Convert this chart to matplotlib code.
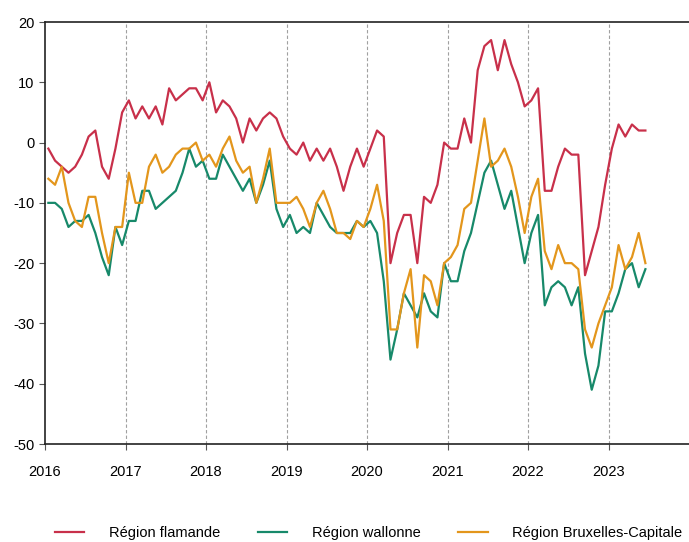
import numpy as np
import matplotlib
matplotlib.use("Agg")
import matplotlib.pyplot as plt

plt.rcParams['font.family'] = ['Liberation Sans', 'DejaVu Sans']
plt.rcParams['axes.unicode_minus'] = False

# monthly values, Jan 2016 - Jun 2023
flandre = [-1, -3, -4, -5, -4, -2, 1, 2, -4, -6, -1, 5,
           7, 4, 6, 4, 6, 3, 9, 7, 8, 9, 9, 7,
           10, 5, 7, 6, 4, 0, 4, 2, 4, 5, 4, 1,
           -1, -2, 0, -3, -1, -3, -1, -4, -8, -4, -1, -4,
           -1, 2, 1, -20, -15, -12, -12, -20, -9, -10, -7, 0,
           -1, -1, 4, 0, 12, 16, 17, 12, 17, 13, 10, 6,
           7, 9, -8, -8, -4, -1, -2, -2, -22, -18, -14, -7,
           -1, 3, 1, 3, 2, 2]
wallonie = [-10, -10, -11, -14, -13, -13, -12, -15, -19, -22, -14, -17,
            -13, -13, -8, -8, -11, -10, -9, -8, -5, -1, -4, -3,
            -6, -6, -2, -4, -6, -8, -6, -10, -7, -3, -11, -14,
            -12, -15, -14, -15, -10, -12, -14, -15, -15, -15, -13, -14,
            -13, -15, -23, -36, -31, -25, -27, -29, -25, -28, -29, -20,
            -23, -23, -18, -15, -10, -5, -3, -7, -11, -8, -14, -20,
            -15, -12, -27, -24, -23, -24, -27, -24, -35, -41, -37, -28,
            -28, -25, -21, -20, -24, -21]
bruxelles = [-6, -7, -4, -10, -13, -14, -9, -9, -15, -20, -14, -14,
             -5, -10, -10, -4, -2, -5, -4, -2, -1, -1, 0, -3,
             -2, -4, -1, 1, -3, -5, -4, -10, -6, -1, -10, -10,
             -10, -9, -11, -14, -10, -8, -11, -15, -15, -16, -13, -14,
             -11, -7, -13, -31, -31, -25, -21, -34, -22, -23, -27, -20,
             -19, -17, -11, -10, -3, 4, -4, -3, -1, -4, -9, -15,
             -9, -6, -18, -21, -17, -20, -20, -21, -31, -34, -30, -27,
             -24, -17, -21, -19, -15, -20]
years = list(range(2016, 2024))
labels = ['Région flamande', 'Région wallonne', 'Région Bruxelles-Capitale']

# mid-month positions
t = 2016 + (np.arange(len(flandre)) + 0.5) / 12

fig = plt.figure(figsize=(6.89, 5.42), dpi=100)
ax = fig.add_axes([45/689, 98/542, 644/689, 422/542])

ax.plot(t, flandre, color='#c8304a', lw=1.6, label=labels[0])
ax.plot(t, wallonie, color='#17896a', lw=1.6, label=labels[1])
ax.plot(t, bruxelles, color='#e3961c', lw=1.6, label=labels[2])

ax.set_xlim(2016, 2024)
ax.set_ylim(-50, 20)
ax.set_xticks(years)
ax.set_xticklabels([str(y) for y in years])
ax.set_yticks(range(-50, 21, 10))
for y in years[1:]:
    ax.axvline(y, color='#a0a0a0', lw=0.8, ls=(0, (3, 2)), zorder=0)

ax.spines['right'].set_visible(False)
for s in ['left', 'bottom', 'top']:
    ax.spines[s].set_color('#222222')
    ax.spines[s].set_linewidth(1.2)
ax.tick_params(axis='both', labelsize=10.5, color='#555555', length=4, width=0.8)
ax.tick_params(axis='x', pad=11)

fig.legend(loc='lower center', bbox_to_anchor=(0.535, -0.02), ncol=3, frameon=False,
           fontsize=10.5, handlelength=2.0, handletextpad=1.7, columnspacing=2.6)

fig.savefig('out.png', dpi=100)
